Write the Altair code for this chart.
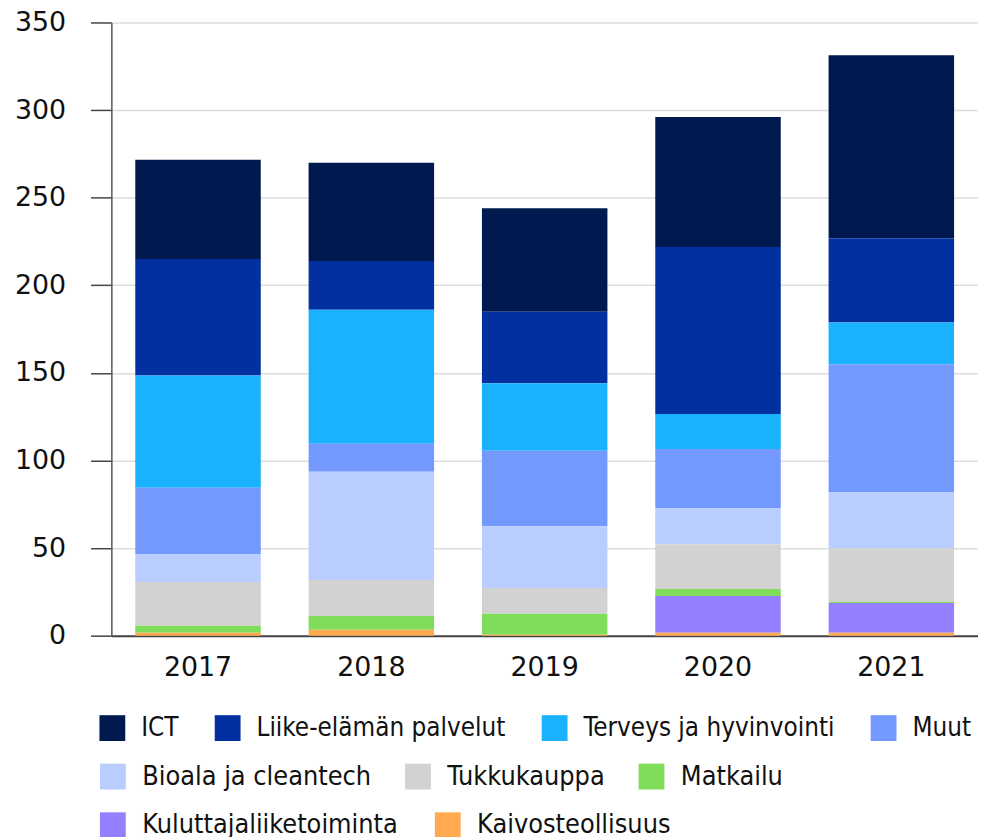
import altair as alt
import pandas as pd

years = ["2017", "2018", "2019", "2020", "2021"]
categories = ["ICT", "Liike-elämän palvelut", "Terveys ja hyvinvointi", "Muut",
              "Bioala ja cleantech", "Tukkukauppa", "Matkailu",
              "Kuluttajaliiketoiminta", "Kaivosteollisuus"]
colors = ["#001a4f", "#0330a0", "#1ab2ff", "#7399ff", "#bacdff",
          "#d2d2d2", "#7fdd5b", "#967fff", "#ffaa50"]

ict = [56.7, 56.1, 59.0, 74.3, 104.4]
liike = [66.5, 27.9, 40.8, 95.3, 48.2]
terveys = [64.0, 76.5, 38.6, 19.9, 23.8]
muut = [38.0, 15.9, 43.1, 34.0, 73.2]
bioala = [15.9, 61.8, 35.2, 20.4, 32.0]
tukku = [24.9, 20.5, 14.7, 25.5, 30.4]
matkailu = [4.0, 7.9, 11.9, 4.0, 0.6]
kulutt = [0.0, 0.0, 0.0, 21.0, 17.0]
kaivos = [1.7, 3.4, 0.6, 1.7, 1.7]

series = [ict, liike, terveys, muut, bioala, tukku, matkailu, kulutt, kaivos]
rows = []
for ci, (cat, vals) in enumerate(zip(categories, series)):
    for y, v in zip(years, vals):
        rows.append({"year": y, "cat": cat, "value": v,
                     "order": len(categories) - ci})
df = pd.DataFrame(rows)

FONT_NUM = "DejaVu Sans"
FONT_LEG = "DejaVu Sans Condensed"

x_enc = alt.X("year:N", sort=years,
              scale=alt.Scale(paddingInner=0.276, paddingOuter=0.138),
              axis=alt.Axis(title=None, labelAngle=0, ticks=False,
                            labelFont=FONT_NUM, labelFontSize=27,
                            labelColor="#111", labelPadding=19,
                            domainColor="#444", domainWidth=2, grid=False))
y_enc = alt.Y("v0:Q", scale=alt.Scale(domain=[0, 350], nice=False),
              axis=alt.Axis(title=None, values=[0, 50, 100, 150, 200, 250, 300, 350],
                            tickSize=21, tickColor="#444", tickWidth=1.5,
                            domainColor="#555", domainWidth=1.5,
                            labelFont=FONT_NUM, labelFontSize=27,
                            labelColor="#111", labelPadding=25,
                            gridColor="#dddddd", gridWidth=1.5))

# (categories, colours, legend y, label size, column gap)
legend_rows = [
    (categories[0:4], colors[0:4], 697, 26, 36),
    (categories[4:7], colors[4:7], 745, 27, 33),
    (categories[7:9], colors[7:9], 794, 27, 36),
]

base = alt.Chart(df).transform_stack(
    stack="value", groupby=["year"],
    sort=[alt.SortField("order", order="ascending")],
    as_=["v0", "v1"])

layers = []
for cats, cols, ly, fs, gap in legend_rows:
    layer = base.transform_filter(
        alt.FieldOneOfPredicate(field="cat", oneOf=cats)
    ).mark_bar().encode(
        x=x_enc, y=y_enc, y2="v1:Q",
        color=alt.Color("cat:N",
                        scale=alt.Scale(domain=cats, range=cols),
                        legend=alt.Legend(title=None, orient="none",
                                          legendX=-12, legendY=ly,
                                          direction="horizontal",
                                          symbolType="square", symbolSize=676,
                                          symbolStrokeWidth=0,
                                          labelFont=FONT_LEG, labelFontSize=fs,
                                          labelColor="#111", labelLimit=0,
                                          labelOffset=16, columnPadding=gap)),
    )
    layers.append(layer)

chart = alt.layer(*layers).resolve_scale(color="independent").properties(
    width=872, height=617,
    autosize=alt.AutoSizeParams(type="none"),
    padding={"left": 104, "top": 12, "right": 0, "bottom": 200},
).configure_view(stroke=None)

chart.save("out.html", embed_options={"renderer": "svg", "actions": False})
